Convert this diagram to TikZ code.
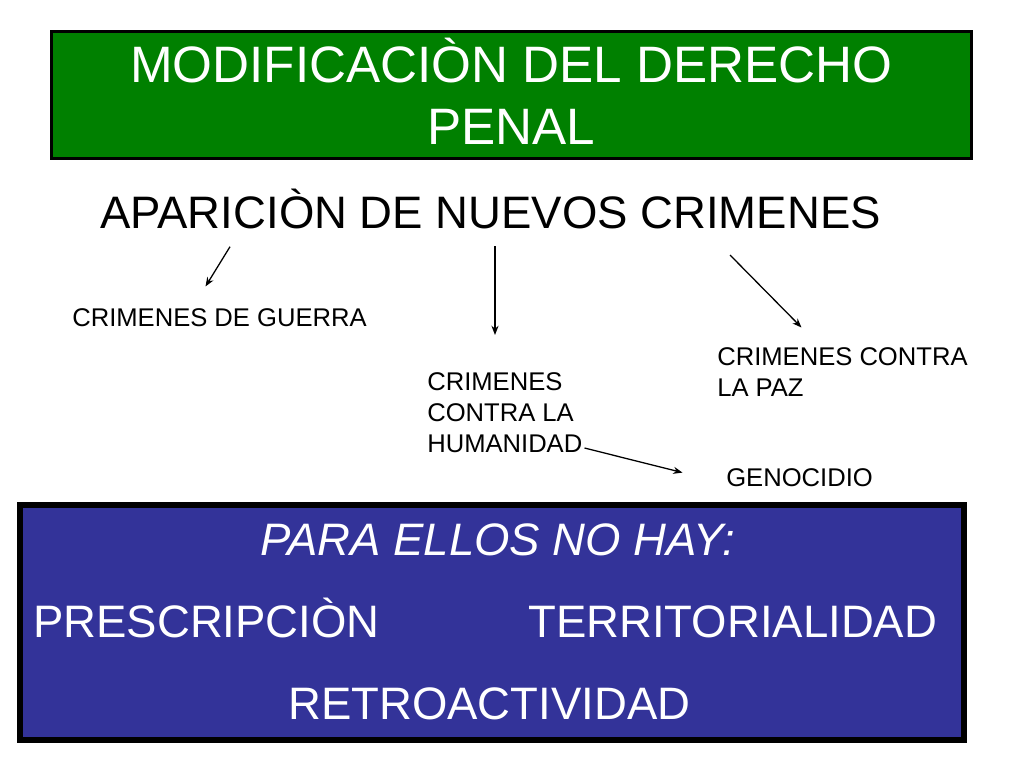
\documentclass[tikz,border=0pt]{standalone}
\usepackage{fontspec}
\setmainfont{Liberation Sans}
\usetikzlibrary{arrows.meta}
\definecolor{pgreen}{RGB}{0,128,0}
\definecolor{pblue}{RGB}{51,51,153}
\begin{document}
\begin{tikzpicture}[x=0.703125pt,y=-0.703125pt,
  txt/.style={inner sep=0pt, anchor=base west, align=left},
  small/.style={txt, font=\fontsize{18}{21.8}\selectfont},
  big/.style={txt, font=\fontsize{32}{38}\selectfont},
  arr/.style={-{Stealth[length=6.5pt,width=5pt]}, line width=0.9pt}]
\useasboundingbox (0,0) rectangle (1024,768);
\fill[white] (0,0) rectangle (1024,768);
% boxes
\draw[fill=pgreen, line width=2.1pt] (51.5,31.5) rectangle (971.5,158.5);
\draw[fill=pblue, line width=4.2pt] (20,505) rectangle (964,740);
% title (base anchor = baseline of last line)
\node (title) [inner sep=0pt, anchor=base, align=center, text=white,
  font=\fontsize{36}{43.6}\selectfont] at (511.5,145)
  {MODIFICACIÒN DEL DERECHO\\PENAL};
\node (apar) [big] at (100,228.3) {APARICIÒN DE NUEVOS CRIMENES};
% targets
\node (guerra) [small] at (72,326.7) {CRIMENES DE GUERRA};
\node (hum) [small] at (427,452.5) {CRIMENES\\CONTRA LA\\HUMANIDAD};
\node (paz) [small] at (717,396.7) {CRIMENES CONTRA\\LA PAZ};
\node (geno) [small] at (726,486.7) {GENOCIDIO};
% arrow ends
\coordinate (a1s) at (230,246.7);
\coordinate (a1e) at (205.5,286.5);
\coordinate (a2s) at (495,246.5);
\coordinate (a2e) at (495,335);
\coordinate (a3s) at (730,255);
\coordinate (a3e) at (801.5,327.5);
\coordinate (a4s) at (584.5,448);
\coordinate (a4e) at (682.5,472.6);
\draw[arr] (a1s) -- (a1e);
\draw[arr] (a2s) -- (a2e);
\draw[arr] (a3s) -- (a3e);
\draw[arr] (a4s) -- (a4e);
% bottom box text
\node (para) [big, text=white, font=\fontsize{32}{38}\selectfont\itshape] at (260,555) {PARA ELLOS NO HAY:};
\node (presc) [big, text=white] at (33,637) {PRESCRIPCIÒN};
\node (terr) [big, text=white] at (528,637) {TERRITORIALIDAD};
\node (retro) [big, text=white] at (288,719) {RETROACTIVIDAD};
\end{tikzpicture}
\end{document}
